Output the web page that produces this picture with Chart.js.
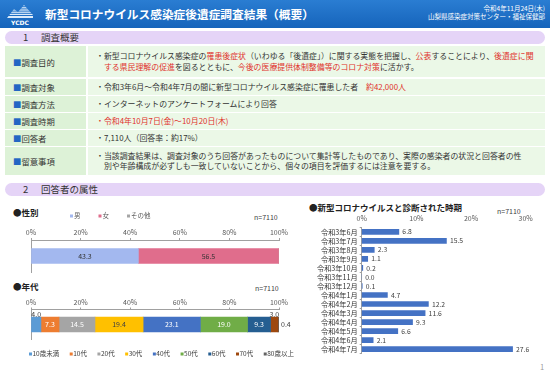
<!DOCTYPE html>
<html><head><meta charset="utf-8">
<script src="https://cdn.jsdelivr.net/npm/chart.js@4"></script>
<style>
body{margin:0;width:550px;height:381px;position:relative;background:#fff;font-family:'Noto Sans CJK JP','Noto Sans',sans-serif;overflow:hidden;color:#333}
.a{position:absolute;white-space:nowrap}
#hdr{left:0;top:0;width:550px;height:28px;background:linear-gradient(#2a7dd2,#1664bb);}
.sec{position:absolute;left:5px;width:540px;height:13px;border-radius:7px;background:#e5d4f7;font-size:9.5px;line-height:13px;}
.sec b{font-weight:normal;position:absolute;left:18px}
.sec i{font-style:normal;position:absolute;left:36px}
.lab{position:absolute;left:5px;width:81px;background:#ddf2d7;display:flex;align-items:center;font-size:8.4px;padding-left:8px;box-sizing:border-box;white-space:nowrap}
.lab::before{content:'■';color:#2366c4;}
.con{position:absolute;left:88px;width:457px;background:#ebf8e7;display:flex;align-items:center;font-size:7.9px;line-height:10.5px;padding-left:8px;box-sizing:border-box;white-space:nowrap}
.r{color:#e0322c}
.t{font-size:8.5px;font-weight:bold;color:#222}
.n{font-size:7px;color:#404040}
canvas{position:absolute}
</style></head>
<body>
<div id="hdr" class="a"></div>
<svg class="a" style="left:5px;top:3px" width="30" height="23" viewBox="0 0 30 23">
 <defs><clipPath id="m"><polygon points="2,15 9,6 13,9 19,2 28,12 28,15"/></clipPath></defs>
 <g clip-path="url(#m)" fill="#dcebfa">
  <rect x="0" y="2" width="30" height="1.2"/><rect x="0" y="4.2" width="30" height="1.2"/><rect x="0" y="6.4" width="30" height="1.2"/>
  <rect x="0" y="8.6" width="30" height="1.2"/><rect x="0" y="10.8" width="30" height="1.2"/><rect x="0" y="13" width="30" height="2"/>
 </g>
 <text x="15" y="21.5" text-anchor="middle" font-size="6" font-weight="bold" fill="#fff" font-family="DejaVu Sans">YCDC</text>
</svg>
<div class="a" style="left:45px;top:5px;font-size:11.7px;line-height:17px;color:#fff;font-weight:bold">新型コロナウイルス感染症後遺症調査結果（概要）</div>
<div class="a" style="right:5px;top:5px;font-size:6.5px;line-height:7.5px;color:#fff;text-align:right">令和4年11月24日(木)<br>山梨県感染症対策センター・福祉保健部</div>

<div class="sec" style="top:31px"><b>1</b><i>調査概要</i></div>

<div class="lab" style="top:46px;height:31px">調査目的</div>
<div class="con" style="top:46px;height:31px"><div>・<span class="r">罹患後症状</span></div></div>

<div class="lab" style="top:79px;height:16px">調査対象</div>
<div class="con" style="top:79px;height:16px">・令和3年6月～令和4年7月の間に新型コロナウイルス感染症に罹患した者　<span class="r">約42,000人</span></div>

<div class="lab" style="top:96px;height:16px">調査方法</div>
<div class="con" style="top:96px;height:16px">・インターネットのアンケートフォームにより回答</div>

<div class="lab" style="top:113px;height:16px">調査時期</div>
<div class="con r" style="top:113px;height:16px">・令和4年10月7日(金)～10月20日(木)</div>

<div class="lab" style="top:130px;height:16px">回答者</div>
<div class="con" style="top:130px;height:16px">・7,110人（回答率：約17%）</div>

<div class="lab" style="top:147px;height:28px">留意事項</div>
<div class="con" style="top:147px;height:28px"><div>・当該調査結果は、調査対象のうち回答があったものについて集計等したものであり、実際の感染者の状況と回答者の性<br>　別や年齢構成が必ずしも一致していないことから、個々の項目を評価するには注意を要する。</div></div>

<div class="sec" style="top:183px"><b>2</b><i>回答者の属性</i></div>

<div class="a t" style="left:13px;top:206px">●性別</div>
<div class="a n" style="left:254px;top:212px">n=7110</div>
<div class="a t" style="left:13px;top:280px">●年代</div>
<div class="a n" style="left:255px;top:283px">n=7110</div>
<div class="a t" style="left:309px;top:201px">●新型コロナウイルスと診断された時期</div>
<div class="a n" style="left:497px;top:206px">n=7110</div>
<div class="a" style="left:540px;top:361px;font-size:7.5px;color:#999">1</div>

<canvas id="g" width="280" height="66" style="left:20px;top:208px"></canvas>
<canvas id="ag" width="280" height="68" style="left:20px;top:296px"></canvas>
<canvas id="d" width="245" height="150" style="left:300px;top:210px"></canvas>

<script>
// ---- data ----
const genderCategories = ['男', '女', 'その他'];
const genderValues = [43.3, 56.5, 0.2];
const ageCategories = ['10歳未満', '10代', '20代', '30代', '40代', '50代', '60代', '70代', '80歳以上'];
const ageValues = [4.0, 7.3, 14.5, 19.4, 23.1, 19.0, 9.3, 3.0, 0.4];
const diagMonths = ['令和3年6月', '令和3年7月', '令和3年8月', '令和3年9月', '令和3年10月', '令和3年11月', '令和3年12月',
  '令和4年1月', '令和4年2月', '令和4年3月', '令和4年4月', '令和4年5月', '令和4年6月', '令和4年7月'];
const diagValues = [6.8, 15.5, 2.3, 1.1, 0.2, 0.0, 0.1, 4.7, 12.2, 11.6, 9.3, 6.6, 2.1, 27.6];

// ---- purpose text (rich) ----
const purposeLine1 = [['新型コロナウイルス感染症の', 0], ['罹患後症状', 1], ['（いわゆる「後遺症」）に関する実態を把握し、', 0], ['公表', 1], ['することにより、', 0], ['後遺症に関', 1]];
const purposeLine2 = [['する県民理解の促進', 1], ['を図るとともに、', 0], ['今後の医療提供体制整備等のコロナ対策', 1], ['に活かす。', 0]];
(function () {
  const seg = a => a.map(([t, r]) => r ? '<span class="r">' + t + '</span>' : t).join('');
  document.querySelector('.con').innerHTML = '<div>・' + seg(purposeLine1) + '<br>　' + seg(purposeLine2) + '</div>';
})();

// ---- styles ----
const FONT = "'Noto Sans CJK JP','Noto Sans',sans-serif";
Chart.defaults.font.family = FONT;
const genderColors = ['#a3b8ef', '#e06d8c', '#a5a5a5'];
const ageColors = ['#5b9bd5', '#ed7d31', '#a5a5a5', '#ffc000', '#4472c4', '#70ad47', '#255e91', '#9e480e', '#636363'];
const ageLabelPlace = ['above', 'in', 'in', 'in', 'in', 'in', 'in', 'above', 'right'];
const ageLabelColor = ['#404040', '#fff', '#fff', '#404040', '#fff', '#fff', '#fff', '#404040', '#404040'];
const genderLabelPlace = ['in', 'in', 'none'];
const axisGray = '#a0a0a0';
const tickGray = '#595959';

const valueLabels = {
  id: 'valueLabels',
  afterDatasetsDraw(chart, args, o) {
    const ctx = chart.ctx;
    ctx.save();
    ctx.font = o.size + 'px ' + FONT;
    ctx.textBaseline = 'middle';
    chart.data.datasets.forEach((ds, di) => {
      const meta = chart.getDatasetMeta(di);
      meta.data.forEach((el, i) => {
        const place = o.place ? o.place(di, i) : 'right';
        if (place === 'none') return;
        const p = el.getProps(['x', 'y', 'base', 'height'], true);
        let tx = (p.x + p.base) / 2, ty = p.y, align = 'center';
        if (place === 'above') ty = p.y - p.height / 2 - 3;
        else if (place === 'right') { tx = p.x + o.gap; align = 'left'; }
        ctx.textAlign = align;
        ctx.fillStyle = o.color ? o.color(di, i) : '#404040';
        ctx.fillText(ds.data[i].toFixed(1), tx, ty);
      });
    });
    ctx.restore();
  }
};
const miniLegend = {
  id: 'miniLegend',
  afterDraw(chart, args, o) {
    if (!o || !o.show) return;
    const ctx = chart.ctx;
    ctx.save();
    ctx.font = o.size + 'px ' + FONT;
    ctx.textBaseline = 'middle'; ctx.textAlign = 'left';
    let x = o.x;
    chart.data.datasets.forEach(ds => {
      ctx.fillStyle = ds.backgroundColor;
      ctx.fillRect(x, o.y - 1.5, 3, 3);
      ctx.fillStyle = o.color;
      ctx.fillText(ds.label, x + o.box, o.y);
      x += o.box + ctx.measureText(ds.label).width + o.gap;
    });
    ctx.restore();
  }
};

function stackedOptions(pad, axisH, legend, labels) {
  return {
    indexAxis: 'y', responsive: false, animation: false,
    layout: { padding: pad },
    plugins: { legend: { display: false }, tooltip: { enabled: false }, miniLegend: legend, valueLabels: labels },
    scales: {
      x: {
        position: 'top', stacked: true, min: 0, max: 100,
        ticks: { stepSize: 20, callback: v => v + '%', font: { size: 7 }, color: tickGray, padding: 1 },
        grid: { display: true, drawOnChartArea: false, drawTicks: true, tickLength: 2, color: axisGray },
        border: { display: true, color: axisGray },
        afterFit(s) { s.height = axisH; }
      },
      y: {
        stacked: true, ticks: { display: false },
        grid: { display: false, drawTicks: false },
        border: { display: true, color: axisGray },
        afterFit(s) { s.width = 0; }
      }
    }
  };
}

new Chart(document.getElementById('g'), {
  type: 'bar',
  data: {
    labels: [''],
    datasets: genderCategories.map((c, i) => ({ label: c, data: [genderValues[i]], backgroundColor: genderColors[i], barThickness: 15, borderWidth: 0 }))
  },
  options: stackedOptions({ left: 11, right: 21, top: 18, bottom: 2 }, 14,
    { show: true, x: 50, y: 8, size: 6.5, box: 4, gap: 18, color: '#595959' },
    { size: 7, place: (d) => genderLabelPlace[d], color: () => '#333' }),
  plugins: [valueLabels, miniLegend]
});

new Chart(document.getElementById('ag'), {
  type: 'bar',
  data: {
    labels: [''],
    datasets: ageCategories.map((c, i) => ({ label: c, data: [ageValues[i]], backgroundColor: ageColors[i], barThickness: 15, borderWidth: 0 }))
  },
  options: stackedOptions({ left: 11, right: 21, top: 0, bottom: 24.5 }, 13.5,
    { show: true, x: 9, y: 58, size: 6.5, box: 3.5, gap: 10.5, color: '#404040' },
    { size: 7, gap: 2, place: (d) => ageLabelPlace[d], color: (d) => ageLabelColor[d] }),
  plugins: [valueLabels, miniLegend]
});

new Chart(document.getElementById('d'), {
  type: 'bar',
  data: {
    labels: diagMonths,
    datasets: [{ label: '診断時期', data: diagValues, backgroundColor: '#4472c4', barThickness: 5, borderWidth: 0 }]
  },
  options: {
    indexAxis: 'y', responsive: false, animation: false,
    layout: { padding: { left: 0, right: 19.3, top: 0, bottom: 2 } },
    plugins: { legend: { display: false }, tooltip: { enabled: false }, miniLegend: { show: false },
      valueLabels: { size: 6.8, gap: 3.5, place: () => 'right', color: () => '#404040' } },
    scales: {
      x: {
        position: 'top', min: 0, max: 30,
        ticks: { stepSize: 10, callback: v => v + '%', font: { size: 7 }, color: tickGray, padding: 5 },
        grid: { display: false, drawTicks: false },
        border: { display: false },
        afterFit(s) { s.height = 17.3; }
      },
      y: {
        ticks: { font: { size: 7.2 }, color: '#333', padding: 2, autoSkip: false },
        grid: { display: true, drawOnChartArea: false, drawTicks: true, tickLength: 2, color: axisGray },
        border: { display: true, color: axisGray },
        afterFit(s) { s.width = 61.7; }
      }
    }
  },
  plugins: [valueLabels, miniLegend]
});
</script>
</body></html>
